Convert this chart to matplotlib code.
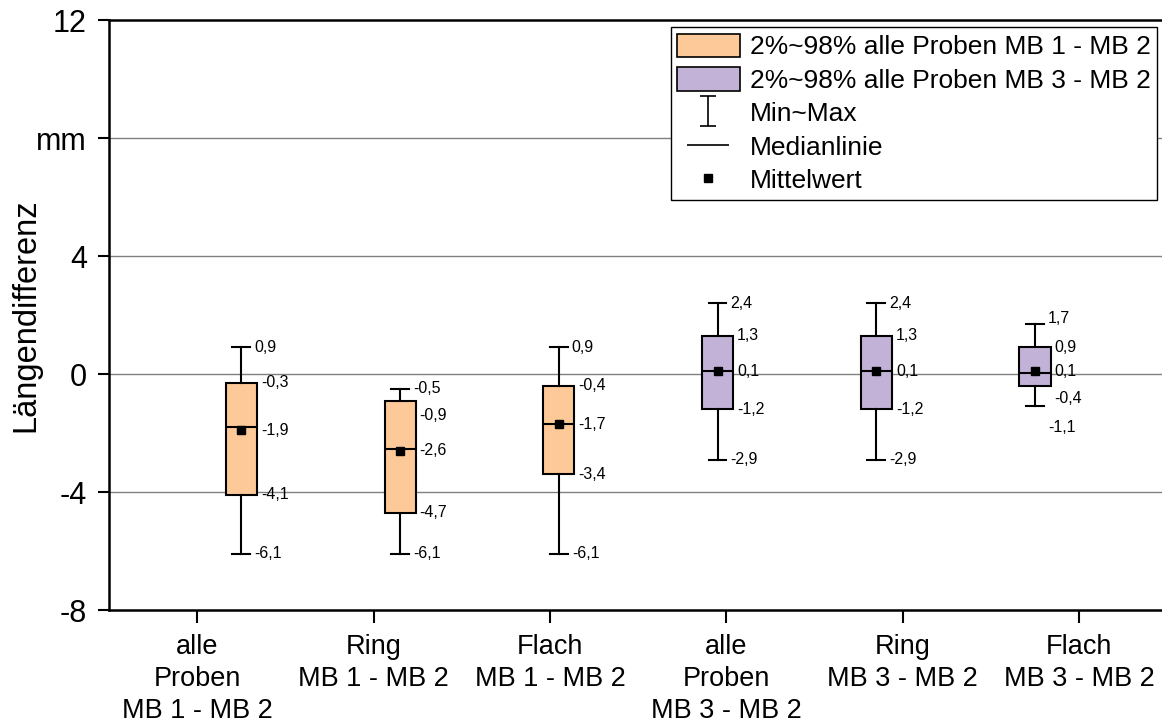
import numpy as np
import matplotlib
matplotlib.use("Agg")
import matplotlib.pyplot as plt
from matplotlib.patches import Patch
from matplotlib.lines import Line2D
from matplotlib.path import Path

plt.rcParams['font.family'] = ['Liberation Sans', 'DejaVu Sans']

# Kennwerte der Längendifferenz je Gruppe (mm)
groups = ['alle\nProben\nMB 1 - MB 2', 'Ring\nMB 1 - MB 2', 'Flach\nMB 1 - MB 2',
          'alle\nProben\nMB 3 - MB 2', 'Ring\nMB 3 - MB 2', 'Flach\nMB 3 - MB 2']
val_max = [0.9, -0.5, 0.9, 2.4, 2.4, 1.7]
val_q98 = [-0.3, -0.9, -0.4, 1.3, 1.3, 0.9]
val_median = [-1.8, -2.55, -1.7, 0.1, 0.1, 0.05]
val_mean = [-1.9, -2.6, -1.7, 0.1, 0.1, 0.1]
val_q2 = [-4.1, -4.7, -3.4, -1.2, -1.2, -0.4]
val_min = [-6.1, -6.1, -6.1, -2.9, -2.9, -1.1]

y_ticks = [-8, -4, 0, 4, 8, 12]
y_ticklabels = ['-8', '-4', '0', '4', 'mm', '12']

c_mb1 = '#fdc998'
c_mb3 = '#c3b2d8'
colors = [c_mb1] * 3 + [c_mb3] * 3

fig = plt.figure(figsize=(11.62, 7.26), dpi=100)
ax = fig.add_axes([109 / 1162, 1 - 610 / 726, 1 - 109 / 1162, 590 / 726])

pos = 1.25 + 0.9 * np.arange(len(groups))
box_w = 0.176
cap_w = 0.1

stats = []
for i in range(len(groups)):
    stats.append(dict(med=val_median[i], q1=val_q2[i], q3=val_q98[i],
                      whislo=val_min[i], whishi=val_max[i],
                      mean=val_mean[i], fliers=[]))

lw = 1.5
bp = ax.bxp(stats, positions=pos, widths=box_w, capwidths=cap_w,
            patch_artist=True, showmeans=True, manage_ticks=False,
            boxprops=dict(edgecolor='black', linewidth=lw),
            medianprops=dict(color='black', linewidth=lw),
            whiskerprops=dict(color='black', linewidth=lw),
            capprops=dict(color='black', linewidth=lw),
            meanprops=dict(marker='s', markerfacecolor='black',
                           markeredgecolor='black', markersize=6))
for patch, c in zip(bp['boxes'], colors):
    patch.set_facecolor(c)
for art in bp['boxes'] + bp['medians'] + bp['whiskers'] + bp['caps'] + bp['means']:
    art.set_zorder(3)

# Wertebeschriftung rechts neben den Boxen
def fmt(v):
    return f'{v:.1f}'.replace('.', ',')

nudge = {(1, 'q98'): -11, (5, 'max'): 4, (5, 'q2'): -9, (5, 'min'): -15}
for i in range(len(groups)):
    items = [('max', val_max[i], cap_w / 2), ('q98', val_q98[i], box_w / 2),
             ('mean', val_mean[i], box_w / 2), ('q2', val_q2[i], box_w / 2),
             ('min', val_min[i], cap_w / 2)]
    for key, v, dx in items:
        ax.annotate(fmt(v), (pos[i] + dx, v), xytext=(3, nudge.get((i, key), 0)),
                    textcoords='offset points', ha='left', va='center',
                    fontsize=11.5, zorder=4)

ax.set_xlim(0.5, 6.47)
ax.set_ylim(-8, 12)
ax.set_xticks(np.arange(1, len(groups) + 1))
ax.set_xticklabels(groups, fontsize=19.5, linespacing=1.3)
ax.set_yticks(y_ticks)
ax.set_yticklabels(y_ticklabels, fontsize=22)
ax.tick_params(axis='y', direction='out', length=8, width=1.5, pad=8)
ax.tick_params(axis='x', direction='out', length=9.5, width=1.5, pad=8)
ax.set_ylabel('Längendifferenz', fontsize=23.5, labelpad=-4)

for y in [-4, 0, 4, 8]:
    ax.axhline(y, color='#808080', linewidth=1.0, zorder=1)

for s in ['left', 'bottom', 'top']:
    ax.spines[s].set_linewidth(1.8)
ax.spines['right'].set_visible(False)

i_path = Path([(-0.28, 0.5), (0.28, 0.5), (0, 0.5), (0, -0.5), (-0.28, -0.5), (0.28, -0.5)],
              [Path.MOVETO, Path.LINETO, Path.MOVETO, Path.LINETO, Path.MOVETO, Path.LINETO])
h_path = Path([(-0.5, 0), (0.5, 0)], [Path.MOVETO, Path.LINETO])
handles = [
    Patch(facecolor=c_mb1, edgecolor='black', linewidth=1.2),
    Patch(facecolor=c_mb3, edgecolor='black', linewidth=1.2),
    Line2D([], [], marker=i_path, color='black', linestyle='none',
           markersize=21, markeredgewidth=1.2),
    Line2D([], [], marker=h_path, color='black', linestyle='none',
           markersize=30, markeredgewidth=1.2),
    Line2D([], [], marker='s', color='black', linestyle='none', markersize=6),
]
labels = ['2%~98% alle Proben MB 1 - MB 2', '2%~98% alle Proben MB 3 - MB 2',
          'Min~Max', 'Medianlinie', 'Mittelwert']
leg = ax.legend(handles, labels, loc='upper right',
                bbox_to_anchor=(1157 / 1162, 1 - 27 / 726), bbox_transform=fig.transFigure,
                borderaxespad=0, fontsize=19, handlelength=2.35, handleheight=1.0,
                handletextpad=0.38, labelspacing=0.29, borderpad=0.25,
                fancybox=False, framealpha=1, edgecolor='black')
leg.get_frame().set_linewidth(1.0)
leg.set_zorder(5)

fig.savefig('out.png', dpi=100)
